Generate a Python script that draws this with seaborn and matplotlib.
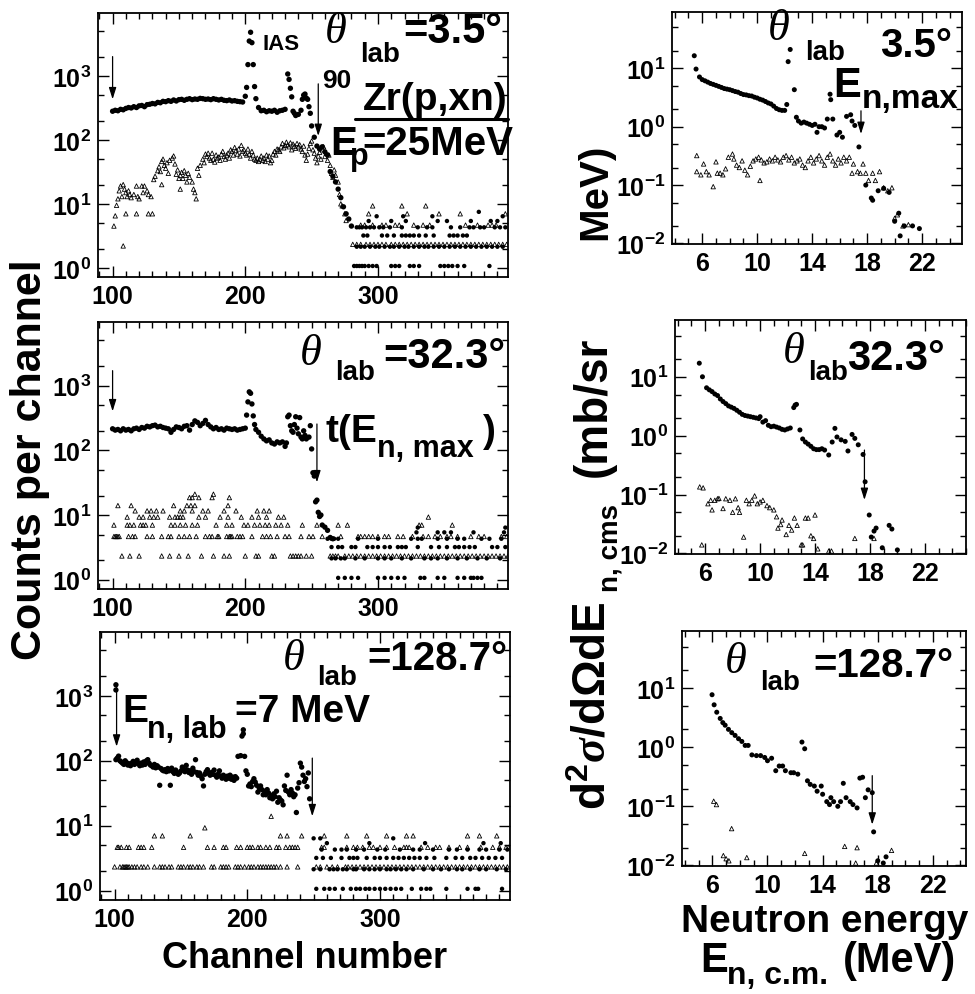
import numpy as np
import matplotlib
matplotlib.use("Agg")
import matplotlib.pyplot as plt
import seaborn as sns
from matplotlib.ticker import FixedLocator, LogLocator, FuncFormatter, MultipleLocator, NullFormatter

# ---------------- DATA ----------------
# Left column: counts per channel vs channel number; (channel, counts)
L1_dots = [(100,280),(102,290),(104,285),(106,300),(108,295),(110,310),(112,320),(114,315),(116,330),(118,320),
           (120,340),(122,345),(124,330),(126,355),(128,360),(130,370),(132,365),(134,385),(136,380),(138,400),
           (140,395),(142,410),(144,400),(146,420),(148,405),(150,425),(152,430),(154,415),(156,430),(158,440),
           (160,425),(162,435),(164,430),(166,445),(168,440),(170,430),(172,435),(174,425),(176,440),(178,430),
           (180,420),(182,430),(184,415),(186,410),(188,420),(190,405),(192,410),(194,400),(196,395),(198,390),
           (200,480),(201,660),(202,1500),(203,3500),(204,4800),(205,3300),(206,1500),(207,680),(208,440),
           (210,320),(212,285),(214,290),(216,275),(218,285),(220,280),(222,290),(224,270),(226,285),(228,290),
           (230,300),(232,1070),(233,880),(234,640),(235,470),(236,280),(237,260),(238,240),(240,250),(242,290),
           (243,430),(244,500),(245,520),(246,450),(247,430),(248,330),(249,260),(250,165),(252,110),(254,80),
           (256,72),(258,78),(260,65),(262,58),(264,32),(266,27),(268,22),(270,17),(272,12.5),(274,9),(276,7),
           (278,5.8),(280,4.5)]
L1_tris = [(101,4.5),(102,6.5),(103,9.5),(104,12),(105,16),(106,19),(107,13),(108,20),(109,17),(110,15),
           (111,13),(112,16),(113,14),(114,12.5),(116,14),(118,19),(119,13),(120,12),(122,19),(123,15),(124,19),
           (126,16),(127,14),(129,13),(131,24),(132,27),(134,33),(135,38),(136,32),(137,46),(138,50),(139,40),
           (140,36),(141,44),(142,30),(143,48),(145,52),(146,56),(147,42),(148,29),(149,34),(150,25),(151,28),
           (152,31),(153,25),(154,33),(155,28),(156,22),(157,30),(158,26),(160,22),(161,17),(162,15),(164,36),
           (165,28),(166,40),(168,50),(169,44),(170,60),(171,55),(172,62),(173,52),(174,48),(175,62),(176,50),
           (177,45),(178,58),(179,52),(180,54),(181,48),(182,60),(183,66),(184,55),(185,50),(186,58),(187,62),
           (188,52),(189,70),(190,66),(191,58),(192,76),(193,68),(194,60),(195,72),(196,56),(197,82),(198,66),
           (199,70),(200,62),(201,58),(202,72),(203,60),(204,52),(205,66),(206,58),(207,50),(208,48),(209,52),
           (210,46),(211,50),(212,56),(213,48),(214,52),(215,46),(216,58),(217,50),(218,56),(219,44),(220,48),
           (221,60),(222,66),(223,58),(224,72),(225,70),(226,66),(227,78),(228,88),(229,75),(230,82),(231,92),
           (232,84),(233,78),(234,90),(235,70),(236,86),(237,80),(238,74),(239,88),(240,78),(241,84),(242,72),
           (243,66),(244,80),(245,58),(246,48),(247,60),(248,74),(249,88),(250,96),(251,70),(252,62),(253,52),
           (254,44),(255,56),(256,64),(257,50),(258,70),(259,78),(260,55),(261,62),(262,48),(263,58),(264,40),
           (265,30),(266,26),(267,34),(268,28),(270,22),(271,14),(272,10),(273,9.3),(275,7),(276,5.5),
           (108,2.2),(110,7),(118,7),(127,7),(130,7),(137,20),(163,12),(151,17)]
L1_bg_dot_levels = [1.07, 2.14, 3.2, 4.3, 5.4, 6.4, 7.5]
L1_bg_dot_channels = [
    [282,284,286,288,290,293,296,299,310,313,316,324,327,331,347,350,353,356,360,365,384],
    [284,287,290,294,298,301,305,309,312,316,320,323,327,331,335,338,342,346,350,354,358,362,366,370,374,378,382,386,390,394],
    [289,292,303,307,312,318,321,324,327,331,336,342,354,357,360,364,367],
    [284,286,288,291,294,297,301,304,309,318,330,337,341,355,362,369,372,377,380,388,392,396],
    [293,310,321,345,352,370,385,390],
    [299,319,341,394],
    [376]]
L1_bg_tri_levels = [2.33, 4.66, 7.0, 9.3]
L1_bg_tri_channels = [
    [281,284,287,291,294,297,300,303,306,310,313,316,319,322,325,328,331,334,337,340,343,346,349,352,355,358,361,364,367,370,373,376,379,382,385,388,391,394,397],
    [287,290,296,303,306,313,316,327,334,339,366,375,383,386,389],
    [293,322,346,362,396],
    [296,318,336]]

L2_dots = [(100,215),(102,205),(104,210),(106,200),(108,215),(110,205),(112,210),(114,200),(116,215),(118,220),
           (120,210),(122,225),(124,220),(126,235),(128,230),(130,240),(132,245),(134,230),(136,235),(138,225),
           (140,220),(142,215),(144,190),(146,210),(148,230),(150,225),(152,215),(154,235),(156,240),(158,205),
           (160,250),(162,285),(164,270),(166,240),(168,260),(170,290),(172,250),(174,230),(176,215),(178,225),
           (180,210),(182,215),(184,205),(186,220),(188,215),(190,210),(192,215),(194,205),(196,210),(198,215),
           (200,220),(201,350),(202,560),(203,800),(204,760),(205,520),(206,340),(207,250),(208,210),(210,190),
           (212,165),(214,150),(216,140),(218,145),(220,130),(222,125),(224,135),(226,130),(228,135),(230,115),
           (231,130),(232,330),(233,350),(234,240),(235,200),(236,190),(237,250),(238,330),(239,220),(240,180),
           (241,320),(242,160),(243,150),(244,200),(245,170),(246,150),(248,160),(249,240),(250,105),(251,45),
           (252,40),(253,16),(254,17),(255,11),(256,9.5),(257,10),(258,7),(260,6.5),(262,5.8),(264,4.5),(266,4.3)]
L2_bg_dot_levels = [1.07, 2.14, 3.2, 4.3, 5.4, 6.4]
L2_bg_dot_channels = [
    [270,275,280,285,300,305,310,315,320,332,335,345,350,360,365,370,372,375,378],
    [265,268,272,275,283,290,300,305,310,318,325,335,340,345,352,360,367,375,382,392],
    [265,270,273,280,283,292,296,300,305,309,315,318,321,330,340,346,352,358,361,365,369,373,386,390,396],
    [262,265,267,270,285,300,325,330,333,345,352,360,365,378,384,393],
    [329,345,350,355,372,395],
    [330,396]]
L2_tri_levels = [2.33, 4.66, 7.0, 9.3, 11.6, 14.0, 18.6, 21.0]
L2_tri_channels = [
    [107,113,120,137,143,150,157,167,176,184,188,200,208,210,220,222,234,236,238,240,242,246,250,264,266,268,270,275,
     278,281,284,287,290,293,296,299,302,305,308,311,314,317,320,323,326,329,332,335,338,341,344,347,350,353,356,359,
     362,365,368,371,374,377,380,383,386,389,392,395,398],
    [101,102,103,104,105,112,115,117,126,130,137,142,144,150,154,158,163,170,173,175,179,180,186,188,189,190,194,196,
     198,205,213,216,219,224,230,233,242,248,251,258,272,285,287,290,293,296,300,305,308,315,319,326,334,338,343,347,
     352,355,360,370,376,380,393,397],
    [101,111,113,116,121,123,125,130,144,147,151,155,160,164,178,186,190,199,202,207,211,215,218,223,227,232,243,254,
     270,277,331,333,356],
    [111,120,123,128,131,134,143,147,149,151,153,165,170,181,187,197,205,210,216,225,229,338],
    [117,126,129,133,138,151,154,160,168,172,184,193,209,214,218],
    [104,114,146,156,159,162,187],
    [158,160,165,175,188],
    [162,176]]

L3_dots = [(101,1480),(101,1230),(101,104),(102,110),(103,118),(104,100),(105,96),(106,92),(107,88),(108,100),
           (109,94),(110,86),(111,90),(112,84),(113,92),(114,98),(115,88),(116,94),(117,102),(118,90),(119,84),
           (120,92),(121,86),(122,96),(123,88),(124,100),(125,104),(126,92),(127,86),(128,84),(129,80),(130,88),
           (131,78),(132,84),(133,80),(134,42),(135,76),(136,72),(137,70),(138,73),(139,68),(140,76),(141,70),
           (142,42),(143,77),(144,68),(145,64),(146,72),(147,66),(148,62),(149,65),(150,70),(151,80),(152,74),
           (153,68),(154,85),(155,72),(156,66),(157,70),(158,62),(159,77),(160,68),(161,104),(162,66),(163,60),
           (164,65),(165,58),(166,53),(167,41),(168,62),(169,68),(170,73),(171,64),(172,60),(173,66),(174,62),
           (175,72),(176,60),(177,56),(178,62),(179,70),(180,58),(181,54),(182,60),(183,56),(184,52),(185,58),
           (186,54),(187,60),(188,52),(189,56),(190,50),(191,57),(192,54),(193,117),(195,120),(196,240),(197,300),
           (197,260),(198,117),(199,70),(200,62),(201,41),(202,44),(203,40),(204,48),(205,53),(206,47),(207,42),
           (208,33),(209,38),(210,41),(211,36),(212,30),(213,34),(214,30),(215,36),(216,32),(217,27),(218,29),
           (219,26),(220,31),(221,28),(222,34),(223,23),(224,27),(225,25),(226,24),(227,21),(228,41),(229,35),
           (230,60),(231,33),(232,30),(233,36),(234,32),(235,28),(236,30),(237,16),(238,38),(239,46),(240,92),
           (241,80),(242,60),(243,48),(244,53),(245,40),(246,65),(247,26)]
L3_bg_dot_levels = [1.07, 2.14, 3.2, 4.3, 5.4, 6.4]
L3_bg_dot_channels = [
    [252,258,262,266,272,278,282,285,289,292,296,300,304,308,312,316,324,331,335,338,350,366,372,374,392],
    [250,255,262,265,268,272,275,280,282,288,292,296,300,305,308,312,316,320,325,333,340,346,352,358,362,368,375,380,388,395],
    [252,257,263,271,277,280,283,290,296,300,305,310,314,318,322,326,330,335,341,350,357,362,368,372,377,382,387,392],
    [256,266,271,275,282,288,298,304,315,325,330,340,352,358,366,375,380,390,396],
    [260,292,334,378,391],
    [250,255,310]]
L3_tri_levels = [2.33, 4.66, 7.0, 9.3, 14.0]
L3_tri_channels = [
    [100,104,106,107,108,109,110,111,113,115,117,120,122,125,130,134,136,138,141,143,148,150,152,155,157,159,162,164,
     167,173,175,180,182,184,186,191,193,195,198,201,203,205,208,210,212,214,216,218,220,222,225,230,238,252,255,260,
     264,268,274,276,279,282,285,288,291,294,297,300,303,306,309,312,315,318,321,324,327,330,333,336,339,342,345,348,
     351,354,357,360,363,366,369,372,375,378,381,384,387,390,393,396],
    [102,103,105,109,111,118,120,122,128,152,170,175,182,184,192,195,200,202,204,208,210,214,217,222,224,229,232,234,
     236,238,256,258,275,280,283,287,292,295,300,305,311,318,320,322,331,336,342,345,352,360,366,376,385,390,395,397],
    [130,136,157,225,230,241,258,275,290,305,320,325,366,375,388],
    [168],
    [218]]

# Right column: cross section (mb/sr MeV) vs neutron energy (MeV); (E, value)
R1_dots = [(5.42,16.4),(5.55,9.7),(5.8,7.1),(6.0,6.4),(6.2,6.1),(6.4,5.8),(6.6,5.5),(6.8,5.3),(7.0,5.1),(7.2,4.9),
           (7.4,4.7),(7.6,4.5),(7.8,4.4),(8.0,4.3),(8.2,4.15),(8.4,4.0),(8.6,3.9),(8.8,3.7),(9.0,3.55),(9.2,3.5),
           (9.4,3.4),(9.6,3.35),(9.8,3.2),(10.0,3.1),(10.2,2.95),(10.4,2.85),(10.6,2.7),(10.8,2.55),(11.0,2.45),
           (11.2,2.25),(11.4,2.05),(11.6,1.95),(11.8,1.9),(12.0,1.9),(12.15,2.4),(12.25,13),(12.4,21),(12.7,4.3),
           (12.85,1.45),(13.0,1.25),(13.2,1.15),(13.4,1.2),(13.6,1.15),(13.8,1.1),(14.0,1.05),(14.2,1.1),(14.35,0.8),
           (14.5,1.0),(14.7,1.0),(14.9,0.95),(15.1,1.35),(15.3,3.6),(15.35,2.9),(15.5,1.35),(15.8,0.72),(16.0,0.8),
           (16.2,0.66),(16.5,1.5),(16.8,1.6),(16.9,1.25),(17.1,1.05),(17.4,0.45),(17.9,0.1),(18.3,0.06),(18.4,0.055),
           (18.8,0.08),(19.2,0.088),(19.6,0.075),(20.0,0.024),(20.3,0.033),(20.4,0.0135),(20.7,0.02),(21.3,0.02),
           (21.8,0.018)]
R1_tris = [(5.6,0.32),(5.6,0.17),(5.9,0.15),(6.1,0.23),(6.3,0.17),(6.5,0.15),(6.8,0.094),(7.0,0.25),(7.1,0.16),
           (7.3,0.16),(7.5,0.15),(7.7,0.19),(7.9,0.3),(8.2,0.34),(8.3,0.28),(8.5,0.22),(8.7,0.2),(8.9,0.26),(9.1,0.18),
           (9.3,0.15),(9.5,0.21),(9.7,0.26),(9.9,0.28),(10.1,0.3),(10.2,0.12),(10.3,0.27),(10.5,0.24),(10.7,0.25),
           (10.9,0.28),(11.1,0.26),(11.3,0.3),(11.5,0.27),(11.7,0.25),(11.9,0.3),(12.1,0.32),(12.3,0.27),(12.5,0.3),
           (12.7,0.24),(12.9,0.26),(13.1,0.28),(13.3,0.22),(13.5,0.2),(13.7,0.26),(13.9,0.3),(14.1,0.24),(14.3,0.28),
           (14.5,0.32),(14.7,0.26),(14.9,0.22),(15.1,0.3),(15.3,0.34),(15.5,0.26),(15.7,0.22),(15.9,0.28),(16.1,0.24),
           (16.3,0.3),(16.5,0.26),(16.7,0.3),(16.9,0.16),(17.0,0.23),(17.3,0.17),(17.5,0.16),(17.7,0.23),(17.9,0.16),
           (18.1,0.12),(18.4,0.16),(18.6,0.12),(18.9,0.17),(19.2,0.09),(19.5,0.08),(19.8,0.09),(20.0,0.027),
           (20.2,0.031),(20.6,0.02),(21.0,0.021)]
R2_dots = [(5.57,17),(5.8,10),(6.1,6.5),(6.3,6.0),(6.5,5.6),(6.7,5.1),(6.9,4.8),(7.1,4.2),(7.3,3.8),(7.5,3.5),
           (7.7,3.2),(7.9,3.05),(8.1,2.9),(8.3,2.7),(8.5,2.5),(8.7,2.3),(8.9,2.2),(9.1,2.15),(9.3,2.1),(9.5,2.05),
           (9.7,2.0),(9.9,1.95),(10.0,2.1),(10.2,1.7),(10.4,1.8),(10.6,1.5),(10.8,1.42),(11.0,1.45),(11.2,1.4),
           (11.4,1.35),(11.6,1.28),(11.8,1.25),(12.0,1.3),(12.2,1.35),(12.45,3.0),(12.55,3.3),(12.65,3.4),(12.9,1.25),
           (13.1,0.88),(13.3,0.78),(13.5,0.72),(13.7,0.66),(13.9,0.6),(14.1,0.58),(14.3,0.58),(14.5,0.6),(14.7,0.57),
           (15.0,0.47),(15.25,0.78),(15.45,1.33),(15.6,0.95),(15.9,0.85),(16.2,0.8),(16.4,0.55),(16.7,1.05),(16.9,0.9),
           (17.15,0.7),(17.5,0.48),(17.65,0.165),(17.95,0.045),(18.1,0.019),(18.3,0.024),(18.45,0.027),(18.9,0.0125),
           (19.4,0.03),(19.6,0.026),(20.0,0.0115)]
R2_tris = [(5.6,0.135),(5.85,0.13),(5.75,0.014),(6.2,0.07),(6.4,0.08),(6.5,0.055),(6.7,0.08),(6.9,0.085),(7.0,0.086),
           (7.3,0.058),(7.5,0.085),(7.8,0.08),(8.0,0.05),(8.2,0.085),(8.4,0.06),(8.5,0.05),(8.8,0.019),(9.0,0.08),
           (9.2,0.07),(9.4,0.08),(9.6,0.095),(9.8,0.07),(10.0,0.075),(10.2,0.08),(10.5,0.065),(10.7,0.06),(11.0,0.055),
           (11.2,0.042),(11.3,0.027),(11.5,0.031),(11.6,0.037),(11.9,0.021),(12.1,0.03),(12.3,0.025),(12.5,0.04),
           (12.7,0.03),(13.0,0.014),(13.1,0.014),(13.3,0.04),(13.5,0.04),(13.7,0.02),(13.9,0.018),(14.0,0.045),
           (14.2,0.012),(15.0,0.011),(15.2,0.011),(16.9,0.018),(18.3,0.018)]
R3_dots = [(5.98,7.7),(6.13,5.2),(6.32,3.9),(6.57,3.06),(6.76,2.6),(6.93,2.35),(7.17,2.0),(7.41,1.76),(7.65,1.58),
           (7.9,1.39),(8.14,1.25),(8.38,1.07),(8.6,1.07),(8.87,0.74),(9.2,0.72),(9.5,0.72),(9.8,0.67),(10.0,0.59),
           (10.3,0.65),(10.6,0.4),(10.85,0.48),(11.1,0.48),(11.3,0.4),(11.7,0.37),(11.9,0.37),(12.2,0.35),(12.5,1.22),
           (12.7,0.94),(12.9,0.27),(13.1,0.235),(13.4,0.22),(13.6,0.18),(13.9,0.22),(14.0,0.16),(14.3,0.12),
           (14.5,0.107),(14.6,0.14),(14.8,0.12),(15.1,0.1),(15.3,0.12),(15.5,0.245),(15.7,0.14),(16.0,0.12),
           (16.2,0.107),(16.5,0.094),(16.7,0.3),(16.9,0.31),(17.1,0.14),(17.3,0.19),(17.6,0.17),(17.7,0.037),
           (18.0,0.012),(18.4,0.011),(18.6,0.014)]
R3_tris = [(6.1,0.122),(6.3,0.107),(7.4,0.042),(6.8,0.0147),(7.0,0.013),(7.2,0.012),(8.5,0.0136),(12.7,0.016),
           (15.6,0.021),(16.5,0.02),(16.4,0.011),(17.9,0.011),(19.0,0.018)]

# arrows: (x, y_from, y_to)
L_arrows = [[(100, 2000, 430), (255, 750, 115)],
            [(100, 1700, 400), (254, 255, 32)],
            [(101.5, 1380, 165), (249, 110, 14)]]
R_arrows = [(17.55, 1.87, 0.75), (17.6, 0.57, 0.081), (17.6, 0.33, 0.049)]

left_xticks = [100, 200, 300]
right_xticks = [6, 10, 14, 18, 22]
left_yticks = [1, 10, 100, 1000]
right_yticks = [0.01, 0.1, 1, 10]

# ---------------- STYLE ----------------
sns.set_style("ticks")
plt.rcParams.update({
    "font.family": ["Liberation Sans", "DejaVu Sans"],
    "font.weight": "bold",
    "mathtext.fontset": "custom",
    "mathtext.rm": "Liberation Sans:bold",
    "mathtext.bf": "Liberation Sans:bold",
    "mathtext.sf": "Liberation Sans:bold",
    "mathtext.it": "Liberation Serif:italic",
    "axes.edgecolor": "black",
    "text.color": "black",
    "xtick.color": "black",
    "ytick.color": "black",
    "xtick.labelcolor": "black",
    "ytick.labelcolor": "black",
    "axes.labelcolor": "black",
})

W, H = 975, 995
fig = plt.figure(figsize=(9.75, 9.95), dpi=100)


def add_axes(l, t, r, b):
    return fig.add_axes([l / W, 1 - b / H, (r - l) / W, (b - t) / H])


def ftext(x, y, s, size, **kw):
    kw.setdefault("ha", "left")
    kw.setdefault("va", "baseline")
    fig.text(x / W, 1 - y / H, s, fontsize=size, fontweight="bold", color="k", **kw)


def theta(x, y, size=32):
    fig.text(x / W, 1 - y / H, "θ", fontsize=size, family=["Liberation Serif", "DejaVu Serif"],
             style="italic", fontweight="normal", ha="left", va="baseline", color="k")


def rtext(x, y, s, size, **kw):
    fig.text(x / W, 1 - y / H, s, fontsize=size, fontweight="bold", rotation=90, rotation_mode="anchor",
             ha="left", va="baseline", color="k", **kw)


def fmt_pow(v, pos):
    return r"$\mathbf{10^{%d}}$" % int(round(np.log10(v)))


def expand_levels(levels, chans):
    xs, ys = [], []
    for lv, cs in zip(levels, chans):
        xs += list(cs)
        ys += [lv] * len(cs)
    return xs, ys


def draw_dots_xy(ax, x, y, s=13):
    sns.scatterplot(x=x, y=y, ax=ax, marker="o", s=s, color="k", edgecolor="none", linewidth=0, legend=False)


def draw_tris_xy(ax, x, y):
    sns.scatterplot(x=x, y=y, ax=ax, marker="^", s=10, facecolor="none", edgecolor="k", linewidth=0.6, legend=False)


def style(ax, xlim, ylim, xticks, xminor, yticks):
    ax.set_yscale("log")
    ax.set_xlim(*xlim)
    ax.set_ylim(*ylim)
    ax.set_xlabel(""); ax.set_ylabel("")
    for sp in ax.spines.values():
        sp.set_visible(True); sp.set_linewidth(1.3); sp.set_color("k")
    ax.xaxis.set_major_locator(FixedLocator(xticks))
    ax.xaxis.set_minor_locator(MultipleLocator(xminor))
    ax.yaxis.set_major_locator(FixedLocator(yticks))
    ax.yaxis.set_minor_locator(LogLocator(base=10, subs=(2.0, 5.0), numticks=50))
    ax.yaxis.set_major_formatter(FuncFormatter(fmt_pow))
    ax.yaxis.set_minor_formatter(NullFormatter())
    ax.tick_params(which="both", direction="in", top=True, right=True, width=1.0, labelsize=18, pad=5,
                   colors="k")
    ax.tick_params(which="major", length=8)
    ax.tick_params(which="minor", length=4)
    for lab in ax.get_xticklabels():
        lab.set_fontweight("bold")


def arrow(ax, x, y0, y1):
    ax.annotate("", xy=(x, y1), xytext=(x, y0),
                arrowprops=dict(arrowstyle="-|>,head_length=0.7,head_width=0.22", lw=0.9, color="k",
                                shrinkA=0, shrinkB=0))


# ---------------- LEFT PANELS ----------------
left_boxes = [(98, 14, 508, 278), (98, 323, 508, 590), (100, 633, 510, 901)]
left_data = [
    (L1_dots, L1_tris, (L1_bg_dot_levels, L1_bg_dot_channels), (L1_bg_tri_levels, L1_bg_tri_channels)),
    (L2_dots, [], (L2_bg_dot_levels, L2_bg_dot_channels), (L2_tri_levels, L2_tri_channels)),
    (L3_dots, [], (L3_bg_dot_levels, L3_bg_dot_channels), (L3_tri_levels, L3_tri_channels)),
]
for i, (box, (dots, tris, bgd, bgt)) in enumerate(zip(left_boxes, left_data)):
    ax = add_axes(*box)
    tx, ty = expand_levels(*bgt)
    tx += [p[0] for p in tris]; ty += [p[1] for p in tris]
    draw_tris_xy(ax, tx, ty)
    dx, dy = expand_levels(*bgd)
    draw_dots_xy(ax, dx, dy, s=10)
    draw_dots_xy(ax, [p[0] for p in dots], [p[1] for p in dots], s=15)
    for (x, y0, y1) in L_arrows[i]:
        arrow(ax, x, y0, y1)
    style(ax, (89, 398), (0.72, 9600), left_xticks, 10, left_yticks)

# ---------------- RIGHT PANELS ----------------
right_boxes = [(672, 13, 962, 245), (675, 321, 966, 555), (682, 632, 966, 867)]
right_xlims = [(3.8, 24.9), (3.8, 25.0), (3.8, 24.4)]
right_data = [(R1_dots, R1_tris), (R2_dots, R2_tris), (R3_dots, R3_tris)]
for i, (box, (dots, tris)) in enumerate(zip(right_boxes, right_data)):
    ax = add_axes(*box)
    draw_tris_xy(ax, [p[0] for p in tris], [p[1] for p in tris])
    draw_dots_xy(ax, [p[0] for p in dots], [p[1] for p in dots], s=13)
    x, y0, y1 = R_arrows[i]
    arrow(ax, x, y0, y1)
    style(ax, right_xlims[i], (0.0098, 92), right_xticks, 1, right_yticks)

# ---------------- TEXT ----------------
# panel 1 left
ftext(262, 50, "IAS", 16)
theta(325, 43)
ftext(360, 62, "lab", 20)
ftext(403, 43, "=3.5°", 30)
ftext(322, 88, "90", 19)
ftext(363, 110, "Zr(p,xn)", 28)
fig.add_artist(plt.Line2D([355 / W, 508 / W], [1 - 120 / H, 1 - 120 / H], color="k", lw=2.2))
ftext(330, 155, "E", 29)
ftext(350, 165, "p", 22)
ftext(362, 155, "=25MeV", 29)
# panel 2 left
theta(300, 365)
ftext(335, 380, "lab", 20)
ftext(383, 368, "=32.3°", 30)
ftext(325, 442, "t(E", 28)
ftext(377, 457, "n, max", 22)
ftext(483, 442, ")", 28)
# panel 3 left
theta(283, 670)
ftext(317, 685, "lab", 20)
ftext(367, 670, "=128.7°", 29)
ftext(122, 722, "E", 28)
ftext(147, 738, "n, lab", 22)
ftext(235, 722, "=7 MeV", 28)
# right panels
theta(768, 40)
ftext(805, 60, "lab", 20)
ftext(880, 57, "3.5°", 29)
ftext(833, 97, "E", 30)
ftext(862, 108, "n,max", 24)
theta(783, 363)
ftext(808, 380, "lab", 20)
ftext(847, 370, "32.3°", 30)
theta(725, 673)
ftext(760, 690, "lab", 20)
ftext(813, 677, "=128.7°", 29)

# axis labels
fig.text(30 / W, 1 - 460 / H, "Counts per channel", fontsize=31, fontweight="bold", rotation=90,
         ha="center", va="center", color="k")
ftext(305, 968, "Channel number", 26, ha="center")
ftext(825, 932, "Neutron energy", 28, ha="center")
ftext(700, 972, "E", 30)
ftext(727, 984, "n, c.m.", 23)
ftext(843, 972, "(MeV)", 30)

rtext(606, 810, r"$\mathbf{d^{2}}\mathit{\sigma}\mathbf{/d\Omega dE}$", 33)
rtext(617, 592, "n, cms", 20)
rtext(606, 477, "(mb/sr", 33)
rtext(606, 240, "MeV)", 29)

fig.savefig("out.png", dpi=100, facecolor="white")
